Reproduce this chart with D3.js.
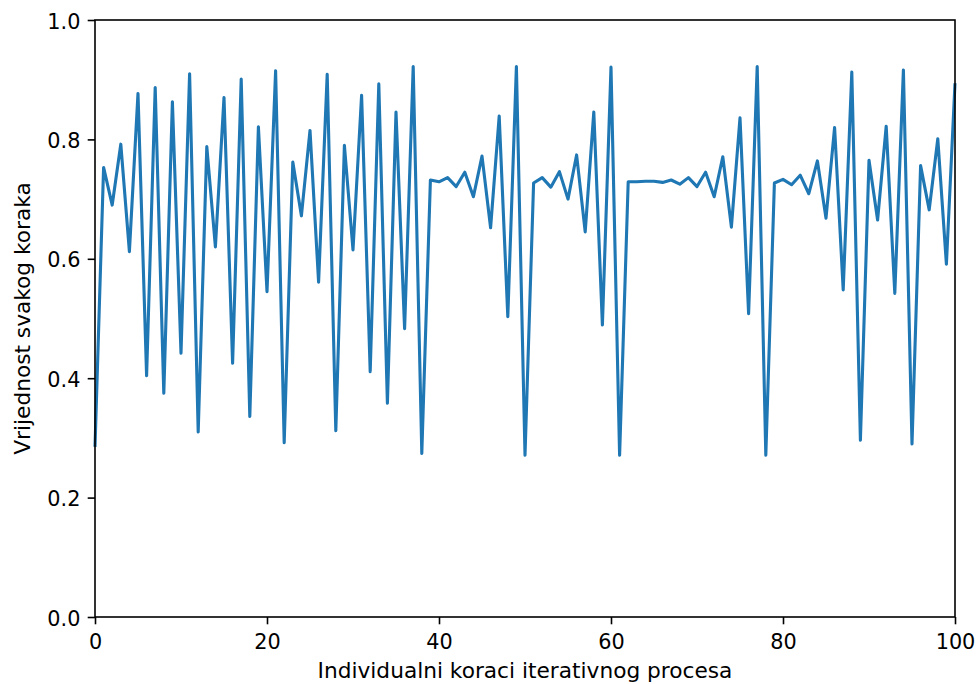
<!DOCTYPE html>
<html>
<head>
<meta charset="utf-8">
<script src="https://cdn.jsdelivr.net/npm/d3@7"></script>
<style>
  html, body { margin: 0; padding: 0; background: #fff; }
  svg { display: block; }
  text { font-family: "DejaVu Sans", sans-serif; fill: #000; }
</style>
</head>
<body>
<svg id="chart" width="978" height="684"></svg>
<script>
// Step indices 0..100
const steps = d3.range(0, 101);
// Value of each step
const values = [
  0.285, 0.753, 0.690, 0.792, 0.612, 0.877, 0.404, 0.887, 0.375, 0.863,
  0.442, 0.910, 0.310, 0.788, 0.620, 0.870, 0.425, 0.901, 0.336, 0.821,
  0.545, 0.915, 0.292, 0.762, 0.672, 0.815, 0.561, 0.909, 0.312, 0.790,
  0.615, 0.874, 0.411, 0.893, 0.358, 0.846, 0.483, 0.922, 0.274, 0.732,
  0.729, 0.736, 0.721, 0.745, 0.704, 0.772, 0.652, 0.839, 0.503, 0.922,
  0.271, 0.727, 0.736, 0.720, 0.746, 0.700, 0.774, 0.645, 0.846, 0.489,
  0.921, 0.271, 0.729, 0.729, 0.730, 0.730, 0.728, 0.732, 0.725, 0.736,
  0.721, 0.745, 0.704, 0.771, 0.653, 0.836, 0.508, 0.922, 0.271, 0.727,
  0.733, 0.724, 0.740, 0.709, 0.764, 0.668, 0.820, 0.548, 0.913, 0.296,
  0.765, 0.665, 0.822, 0.542, 0.916, 0.290, 0.756, 0.682, 0.801, 0.591,
  0.894
];
const xTicks = [0, 20, 40, 60, 80, 100];
const yTicks = [0.0, 0.2, 0.4, 0.6, 0.8, 1.0];
const xLabel = "Individualni koraci iterativnog procesa";
const yLabel = "Vrijednost svakog koraka";

const svg = d3.select("#chart");
const mLeft = 95, mRight = 955, mTop = 20, mBottom = 617;
const fontSize = 20.8;
const labelSize = 21.7;
const tickLen = 7.3, tickPad = 7.3;

const x = d3.scaleLinear().domain([0, 100]).range([mLeft, mRight]);
const y = d3.scaleLinear().domain([0, 1]).range([mBottom, mTop]);

// line
const line = d3.line().x((d, i) => x(steps[i])).y(d => y(d));
svg.append("path")
  .datum(values)
  .attr("fill", "none")
  .attr("stroke", "#1f77b4")
  .attr("stroke-width", 3.1)
  .attr("stroke-linejoin", "round")
  .attr("stroke-linecap", "butt")
  .attr("d", line);

// axes
const xAxis = d3.axisBottom(x).tickValues(xTicks).tickFormat(d3.format("d"))
  .tickSize(tickLen).tickSizeOuter(0).tickPadding(tickPad);
const gx = svg.append("g").attr("transform", `translate(0,${mBottom})`).call(xAxis);
gx.select(".domain").remove();
gx.selectAll(".tick line").attr("stroke", "#000").attr("stroke-width", 1.6);
gx.selectAll(".tick text")
  .attr("font-size", fontSize)
  .attr("font-family", "DejaVu Sans")
  .attr("fill", "#000")
  .attr("y", tickLen + tickPad)
  .attr("dy", "0.84em");

const yAxis = d3.axisLeft(y).tickValues(yTicks).tickFormat(d3.format(".1f"))
  .tickSize(tickLen).tickSizeOuter(0).tickPadding(tickPad);
const gy = svg.append("g").attr("transform", `translate(${mLeft},0)`).call(yAxis);
gy.select(".domain").remove();
gy.selectAll(".tick line").attr("stroke", "#000").attr("stroke-width", 1.6);
gy.selectAll(".tick text")
  .attr("font-size", fontSize)
  .attr("font-family", "DejaVu Sans")
  .attr("fill", "#000")
  .attr("dy", "0.39em");

// spines
svg.append("rect")
  .attr("x", mLeft).attr("y", mTop)
  .attr("width", mRight - mLeft).attr("height", mBottom - mTop)
  .attr("fill", "none")
  .attr("stroke", "#000")
  .attr("stroke-width", 1.6);

// axis labels
svg.append("text")
  .attr("x", (mLeft + mRight) / 2)
  .attr("y", 678)
  .attr("text-anchor", "middle")
  .attr("font-size", labelSize)
  .text(xLabel);

svg.append("text")
  .attr("transform", `translate(30,${(mTop + mBottom) / 2}) rotate(-90)`)
  .attr("text-anchor", "middle")
  .attr("font-size", labelSize)
  .text(yLabel);
</script>
</body>
</html>
